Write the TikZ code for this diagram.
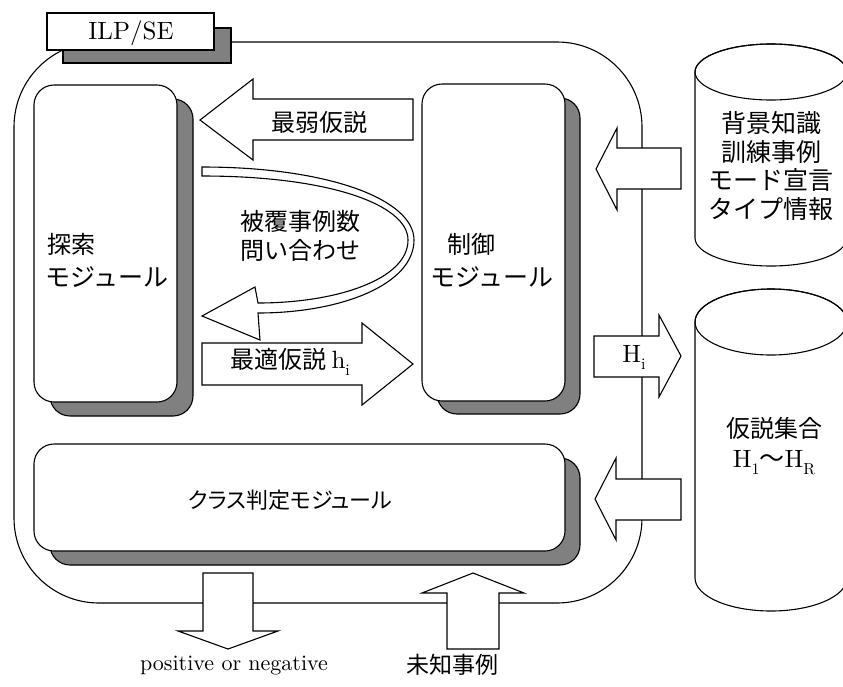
\documentclass[tikz,border=0pt]{standalone}
\usepackage{fontspec}
\newfontfamily\jp{Noto Sans CJK JP}[RawFeature=+palt]
\newfontfamily\jpw{Noto Sans CJK JP}
\newfontfamily\lten{lmroman10-regular.otf}
\newcommand\mysub[1]{\raisebox{-0.28em}{\fontsize{16}{16}\selectfont #1}}
\definecolor{shadowgray}{RGB}{128,128,128}
\tikzset{
  lw/.style={line width=1.1pt},
  modbox/.style={lw, draw=black, fill=white, rounded corners=20pt},
  modshadow/.style={lw, draw=black, fill=shadowgray, rounded corners=20pt},
  blockarrow/.style={lw, draw=black, fill=white, line join=miter},
  jt/.style={font=\jp\fontsize{24}{28.5}\selectfont, inner sep=0pt, align=center},
  mt/.style={font=\jpw\fontsize{24}{28.5}\selectfont, inner sep=0pt, align=center},
  lt/.style={font=\lten\fontsize{25}{28}\selectfont, inner sep=0pt},
}
\begin{document}
\begin{tikzpicture}[x=1pt,y=-1pt]
\useasboundingbox (0,0) rectangle (843,686);
% outer frame
\draw[lw, rounded corners=85pt] (14,42) rectangle (642,603);
% ILP/SE label
\draw[lw, fill=shadowgray] (63,28) rectangle (231,63);
\draw[lw, fill=white] (47,13) rectangle (214,50);
\node[lt] (ilp) at (131,33) {ILP/SE};
% search module
\draw[modshadow] (50,99) rectangle (193,416);
\draw[modbox] (34,85) rectangle (177,402);
% control module
\draw[modshadow] (437,98) rectangle (580,414);
\draw[modbox] (422,84) rectangle (565,401);
% class module
\draw[modshadow] (50,458) rectangle (580,565);
\draw[modbox] (34,444) rectangle (565,551);
% block arrows
\draw[blockarrow] (200,120) -- (253,79) -- (253,99) -- (413,99) -- (413,140) -- (253,140) -- (253,160) -- cycle;
\draw[blockarrow] (202,343) -- (362,343) -- (362,323) -- (413,364) -- (362,405) -- (362,385) -- (202,385) -- cycle;
\draw[blockarrow] (596,169) -- (617,128) -- (617,148) -- (681,148) -- (681,189) -- (617,189) -- (617,210) -- cycle;
\draw[blockarrow] (594,336) -- (659,336) -- (659,315) -- (681,356) -- (659,397) -- (659,377) -- (594,377) -- cycle;
\draw[blockarrow] (595,499) -- (616,458) -- (616,479) -- (681,479) -- (681,520) -- (616,520) -- (616,540) -- cycle;
\draw[blockarrow] (203,573) -- (253,573) -- (253,631) -- (278,631) -- (228,649) -- (178,631) -- (203,631) -- cycle;
\draw[blockarrow] (473,573) -- (524,593) -- (499,593) -- (499,649) -- (447,649) -- (447,593) -- (422,593) -- cycle;
% curved arrow
\draw[blockarrow] (202,167) .. controls (330,167) and (414,200) .. (414,240)
  .. controls (414,285) and (340,313) .. (258,313)
  -- (260,340) -- (202,316) -- (255,287) -- (258,303)
  .. controls (335,303) and (408,280) .. (408,240)
  .. controls (408,205) and (330,176) .. (202,176) -- cycle;
% cylinders
\draw[lw, fill=white] (695,72) -- (695,238) arc[start angle=180, end angle=0, x radius=76, y radius=28]
  -- (847,72) arc[start angle=0, end angle=-180, x radius=76, y radius=28] -- cycle;
\draw[lw] (771,72) ellipse[x radius=76, y radius=28];
\draw[lw, fill=white] (695,322) -- (695,578) arc[start angle=180, end angle=0, x radius=76, y radius=33]
  -- (847,322) arc[start angle=0, end angle=-180, x radius=76, y radius=33] -- cycle;
\draw[lw] (771,322) ellipse[x radius=76, y radius=33];
% texts
\node[mt] (t1) at (71,244) {探索};
\node[mt, font=\jpw\fontsize{25}{28.5}\selectfont] (t2) at (107,277) {モジュール};
\node[mt] (c1) at (471,244) {制御};
\node[mt, font=\jpw\fontsize{25}{28.5}\selectfont] (c2) at (492,277) {モジュール};
\node[jt, font=\jp\fontsize{22}{28.5}\selectfont] (cl) at (290,500) {クラス判定モジュール};
\node[mt] (w) at (319,122) {最弱仮説};
\node[mt] (q) at (300,236) {被覆事例数\\問い合わせ};
\node[jt, anchor=west] (b) at (230,362) {最適仮説 {\lten\fontsize{25}{28}\selectfont h\mysub{i}}};
\node[lt] (hi) at (634,357) {H\mysub{i}};
\node[mt, font=\jpw\fontsize{25}{28.5}\selectfont] (bk) at (771,166) {背景知識\\訓練事例\\モード宣言\\タイプ情報};
\node[mt] (hs) at (774,428) {仮説集合};
\node[lt] (hr) at (774,463) {H\mysub{1}{\jp ～}H\mysub{R}};
\node[lt, font=\lten\fontsize{22}{24}\selectfont] (pn) at (234,666) {positive or negative};
\node[jt, font=\jp\fontsize{23}{24}\selectfont] (un) at (452,665) {未知事例};
\end{tikzpicture}
\end{document}
